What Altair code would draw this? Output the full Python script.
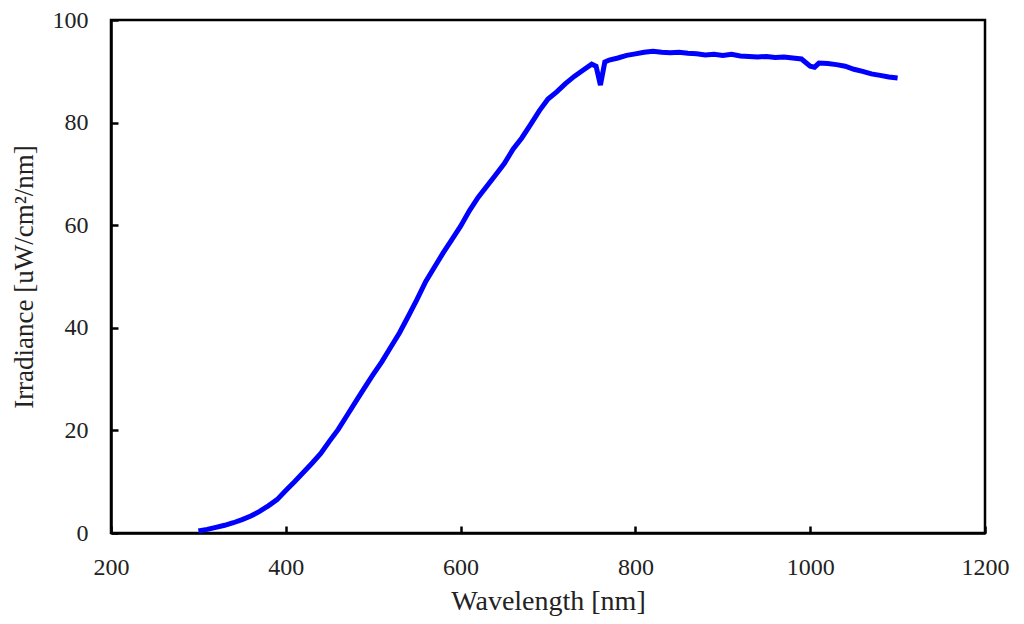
import altair as alt
import pandas as pd

wavelength = [300, 310, 320, 330, 340, 350, 360, 370, 380, 390,
              400, 410, 420, 430, 440, 450, 460, 470, 480, 490,
              500, 510, 520, 530, 540, 550, 560, 570, 580, 590,
              600, 610, 620, 630, 640, 650, 660, 670, 680, 690,
              700, 710, 720, 730, 740, 750, 755, 760, 765, 770,
              780, 790, 800, 810, 820, 830, 840, 850, 860, 870,
              880, 890, 900, 910, 920, 930, 940, 950, 960, 970,
              980, 990, 1000, 1005, 1010, 1020, 1030, 1040, 1050, 1060,
              1070, 1080, 1090, 1100]
irradiance = [0.4, 0.7, 1.1, 1.5, 2.0, 2.6, 3.3, 4.2, 5.3, 6.5,
              8.3, 10.0, 11.8, 13.6, 15.5, 17.9, 20.2, 22.9, 25.6, 28.3,
              30.9, 33.4, 36.2, 39.0, 42.2, 45.5, 49.0, 51.8, 54.6, 57.2,
              59.8, 62.8, 65.4, 67.6, 69.8, 72.0, 74.8, 77.0, 79.6, 82.3,
              84.6, 86.0, 87.6, 89.0, 90.2, 91.4, 91.0, 87.3, 91.8, 92.2,
              92.6, 93.1, 93.4, 93.7, 93.9, 93.7, 93.6, 93.7, 93.5, 93.4,
              93.2, 93.3, 93.1, 93.3, 93.0, 92.9, 92.8, 92.9, 92.7, 92.8,
              92.6, 92.4, 91.0, 90.8, 91.6, 91.5, 91.3, 91.0, 90.4, 90.0,
              89.5, 89.2, 88.9, 88.7]
x_ticks = [200, 400, 600, 800, 1000, 1200]
y_ticks = [0, 20, 40, 60, 80, 100]

df = pd.DataFrame({"wavelength": wavelength, "irradiance": irradiance})

FONT = "Liberation Serif"

chart = alt.Chart(df).mark_line(color="#0000ff", strokeWidth=5, clip=True).encode(
    x=alt.X("wavelength:Q", title="Wavelength [nm]",
            scale=alt.Scale(domain=[200, 1200], nice=False, zero=False),
            axis=alt.Axis(values=x_ticks, tickSize=alt.ExprRef("-7"), labelPadding=29,
                          titlePadding=8, format="d")),
    y=alt.Y("irradiance:Q", title="Irradiance [uW/cm²/nm]",
            scale=alt.Scale(domain=[0, 100], nice=False),
            axis=alt.Axis(values=y_ticks, tickSize=alt.ExprRef("-7"), labelPadding=30,
                          titlePadding=14, titleFontSize=27, format="d")),
).properties(
    width=874, height=513,
    autosize=alt.AutoSizeParams(type="none"),
    padding={"left": 103, "top": 12, "right": 30, "bottom": 90},
).configure_view(
    stroke="black", strokeWidth=2.5
).configure_axis(
    grid=False, domainColor="black", domainWidth=2.5,
    tickColor="black", tickWidth=2.5,
    labelFont=FONT, labelFontSize=24, labelColor="#222222",
    titleFont=FONT, titleFontSize=28, titleFontWeight="normal", titleColor="#222222",
    labelFlush=False, labelOverlap=False,
)

chart.save("out.html", embed_options={"renderer": "svg", "actions": False})
